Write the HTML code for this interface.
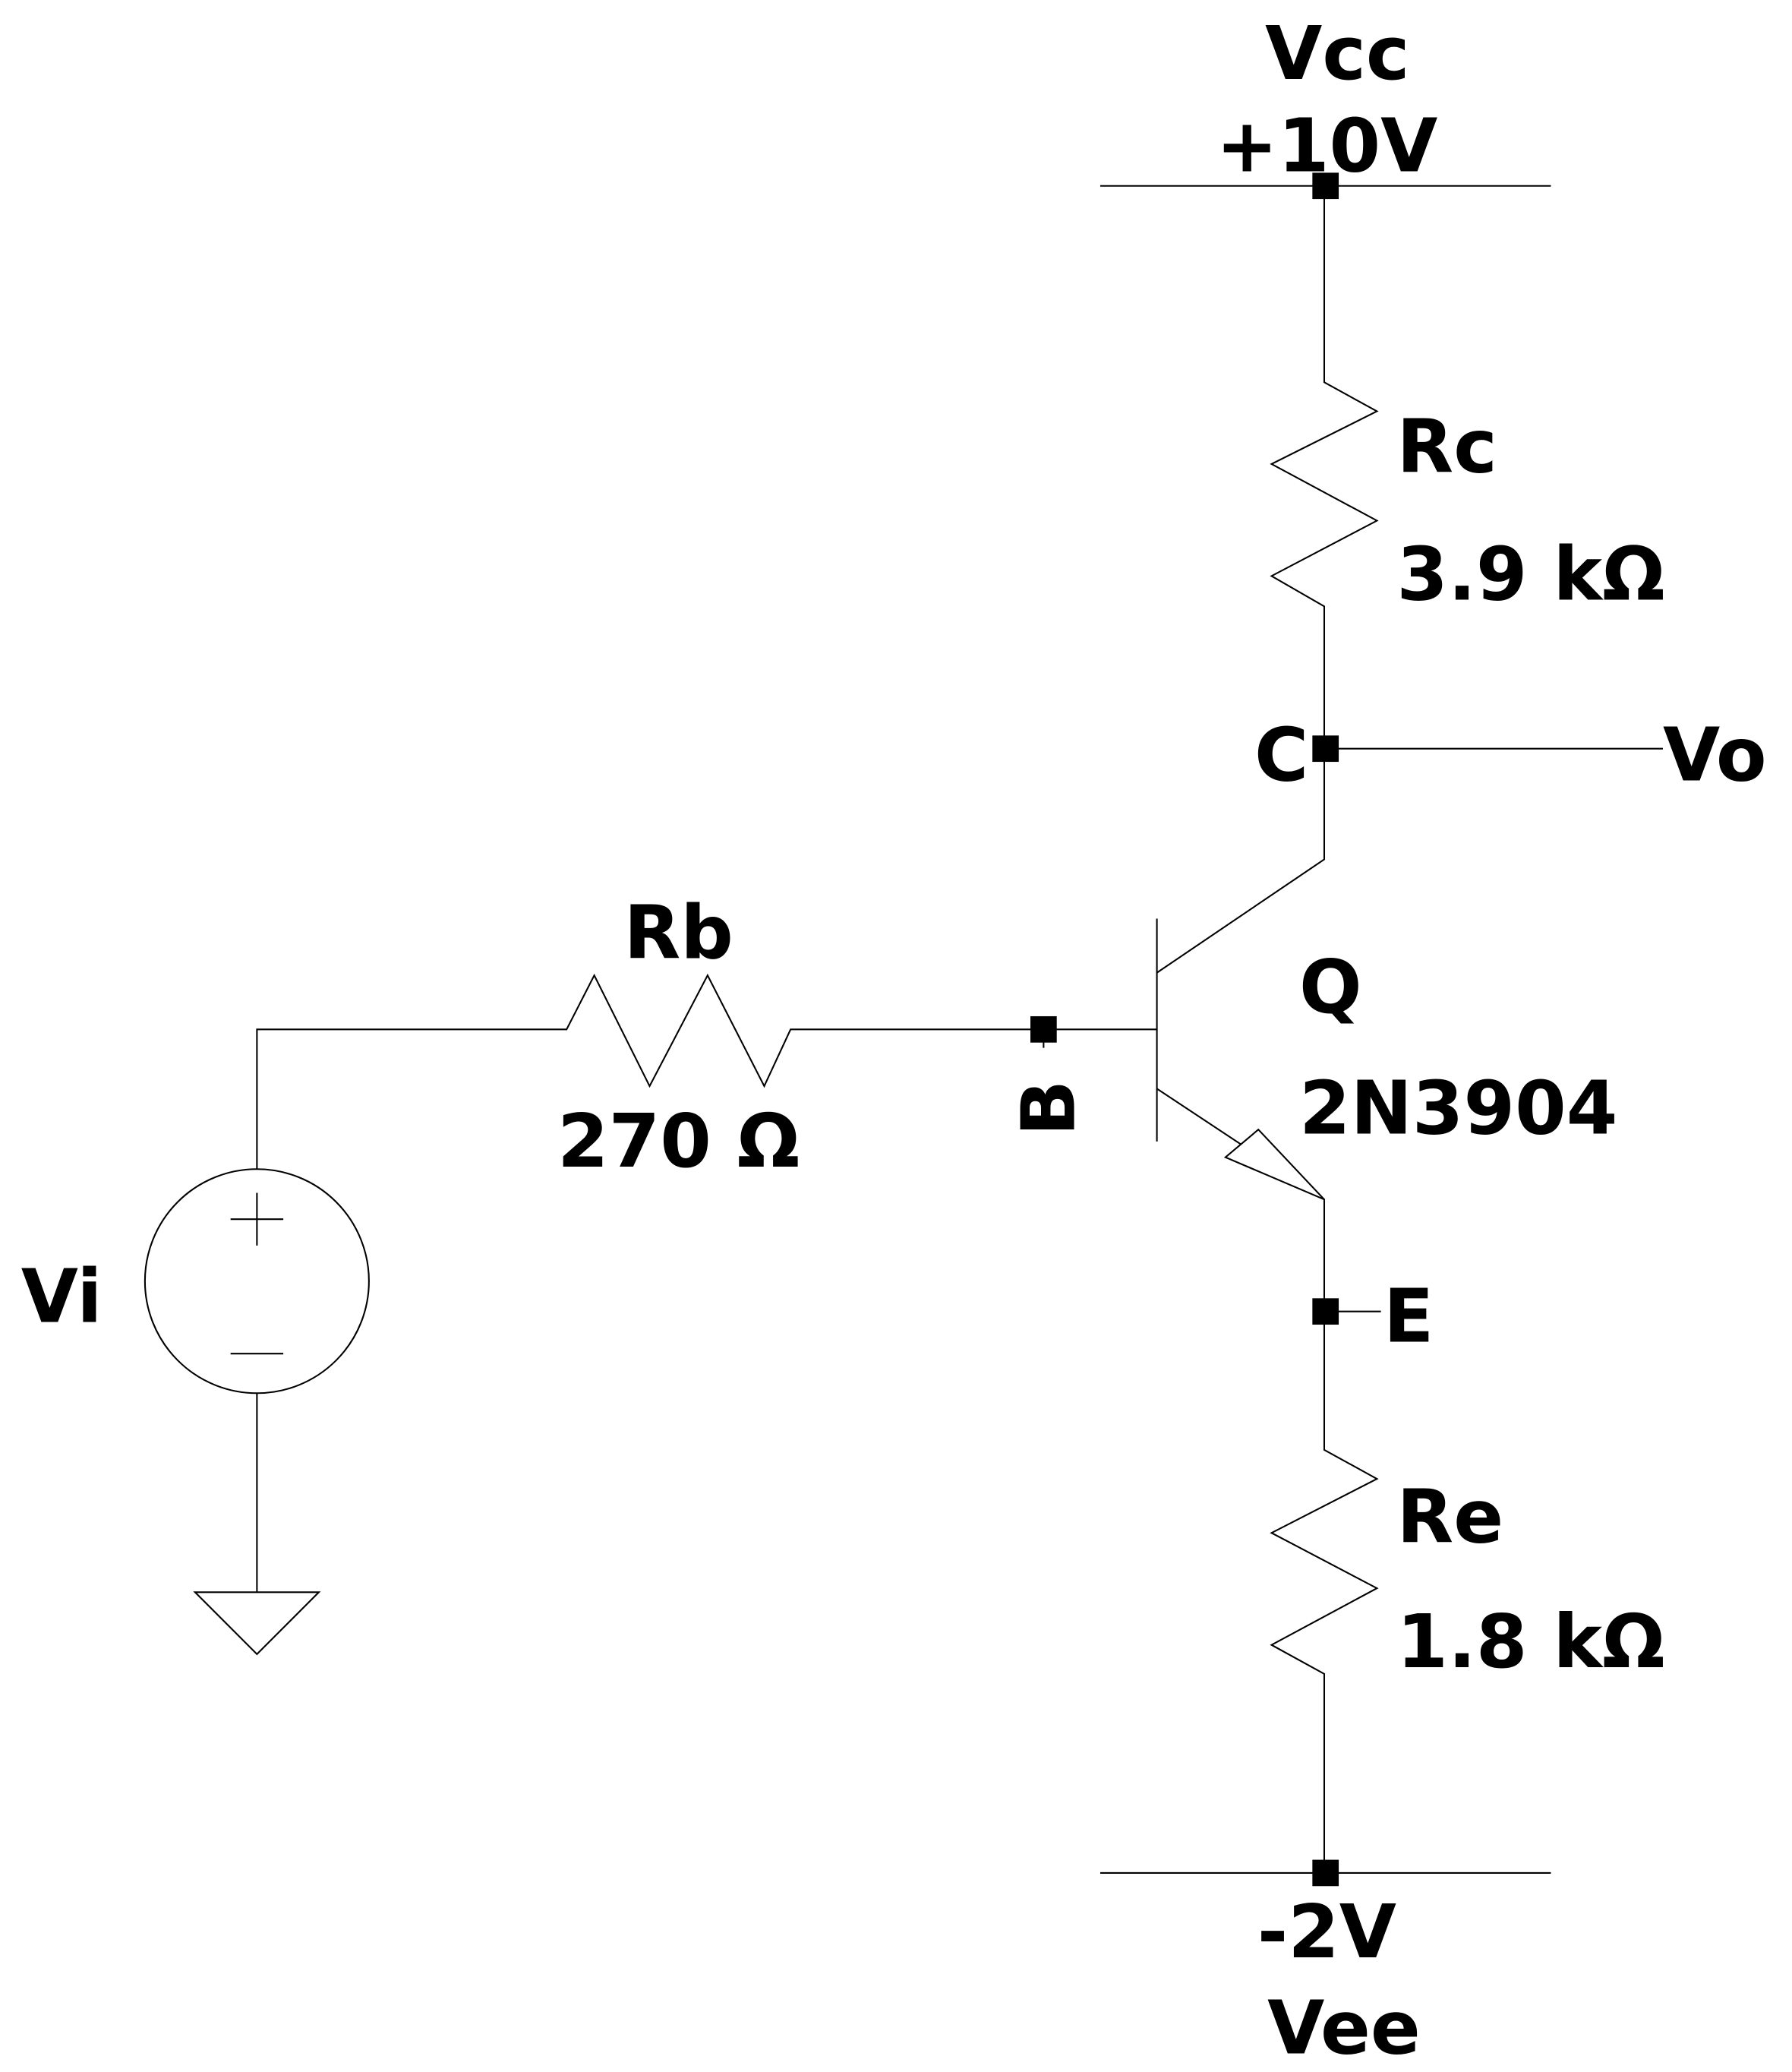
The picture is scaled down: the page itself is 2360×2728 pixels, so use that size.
<!DOCTYPE html>
<html><head><meta charset="utf-8"><style>
html,body{margin:0;padding:0;background:#fff;}
svg{display:block;}
text{font-family:"DejaVu Sans","Liberation Sans",sans-serif;font-weight:bold;font-size:56px;fill:#000;}
</style></head><body>
<svg width="2360" height="2728" viewBox="0 0 1360 1572">
<g fill="none" stroke="#000" stroke-width="1.2">
<line x1="835" y1="141" x2="1177" y2="141"/>
<polyline points="1005,141 1005,290 1045,312 965,352 1045,395 965,437 1005,460 1005,652 878,738"/>
<line x1="1005" y1="568" x2="1262" y2="568"/>
<line x1="878" y1="697" x2="878" y2="866"/>
<polyline points="195,887 195,781 430,781 451,740 493,824 537,740 580,824 600,781 878,781"/>
<line x1="792" y1="781" x2="792" y2="795"/>
<polyline points="878,826 1005,910 1005,1100 1045,1122 965,1163 1045,1205 965,1248 1005,1270 1005,1421"/>
<polygon points="1005,910 955,857 930,878" fill="#fff"/>
<line x1="1005" y1="995" x2="1048" y2="995"/>
<line x1="835" y1="1421" x2="1177" y2="1421"/>
<circle cx="195" cy="972" r="85"/>
<line x1="175" y1="925" x2="215" y2="925"/><line x1="195" y1="905" x2="195" y2="945"/>
<line x1="175" y1="1027" x2="215" y2="1027"/>
<line x1="195" y1="1057" x2="195" y2="1208"/>
<polygon points="148,1208 242,1208 195,1255"/>
</g>
<g fill="#000">
<rect x="996" y="131" width="20" height="20"/>
<rect x="996" y="558" width="20" height="20"/>
<rect x="782" y="771" width="20" height="20"/>
<rect x="996" y="985" width="20" height="20"/>
<rect x="996" y="1411" width="20" height="20"/>
</g>
<text x="1015" y="60" text-anchor="middle">Vcc</text>
<text x="1007" y="130" text-anchor="middle">+10V</text>
<text x="1060" y="358">Rc</text>
<text x="1060" y="455">3.9 kΩ</text>
<text x="952" y="592">C</text>
<text x="1262" y="592">Vo</text>
<text x="515" y="727" text-anchor="middle">Rb</text>
<text x="515" y="885" text-anchor="middle">270 Ω</text>
<text x="0" y="0" transform="translate(815,862) rotate(-90)">B</text>
<text x="986" y="768">Q</text>
<text x="986" y="860">2N3904</text>
<text x="16" y="1003">Vi</text>
<text x="1050" y="1018">E</text>
<text x="1060" y="1170">Re</text>
<text x="1060" y="1265">1.8 kΩ</text>
<text x="1007" y="1485" text-anchor="middle">-2V</text>
<text x="1020" y="1558" text-anchor="middle">Vee</text>
</svg>
</body></html>
